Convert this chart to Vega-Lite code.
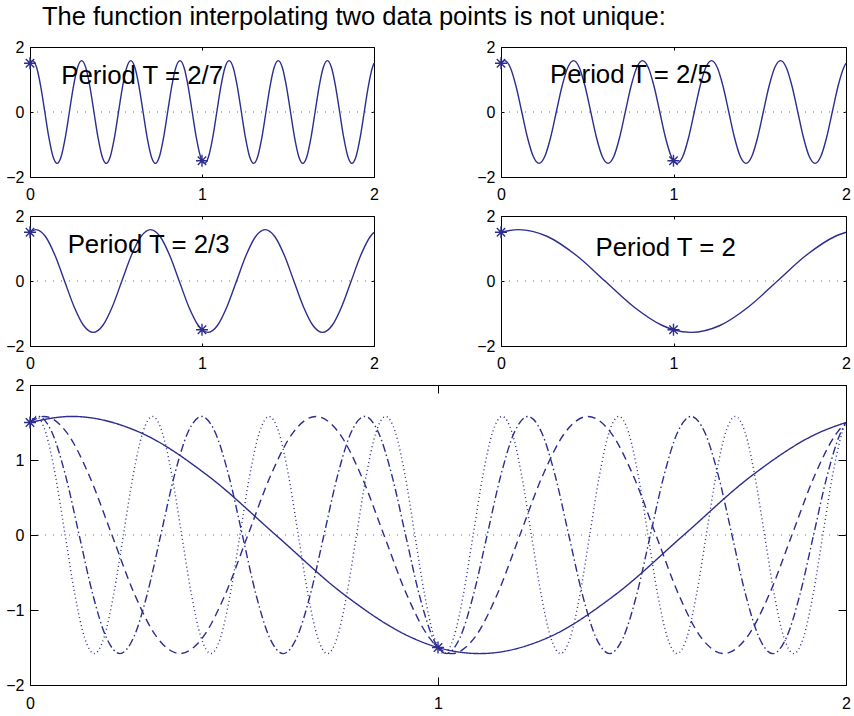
{
  "$schema": "https://vega.github.io/schema/vega-lite/v6.json",
  "background": "white",
  "padding": {"left": 5, "top": 5, "right": 5, "bottom": 5},
  "title": {"text": "The function interpolating two data points is not unique:", "anchor": "start", "frame": "group", "dx": 12, "offset": -12, "baseline": "alphabetic", "fontSize": 25.5, "font": "Liberation Sans", "fontWeight": "normal", "color": "black"},
  "config": {
    "view": {"stroke": "black", "strokeWidth": 1},
    "axis": {"grid": false, "domain": false, "format": "d", "labelFont": "Liberation Sans", "labelFontSize": 16, "labelColor": "black", "tickColor": "black", "tickWidth": 1, "labelFlush": false, "labelOverlap": false, "labelBound": false, "title": null}
  },
  "datasets": {
    "pts": [{"t": 0, "y": 1.5}, {"t": 1, "y": -1.5}],
    "curves": [
{"T":"2/7","t":0,"y":1.5},{"T":"2/7","t":0.0146,"y":1.581},{"T":"2/7","t":0.0384,"y":1.369},{"T":"2/7","t":0.0623,"y":0.791},{"T":"2/7","t":0.0861,"y":0},{"T":"2/7","t":0.1099,"y":-0.791},{"T":"2/7","t":0.1337,"y":-1.369},{"T":"2/7","t":0.1575,"y":-1.581},{"T":"2/7","t":0.1813,"y":-1.369},{"T":"2/7","t":0.2051,"y":-0.791},{"T":"2/7","t":0.2289,"y":0},{"T":"2/7","t":0.2527,"y":0.791},{"T":"2/7","t":0.2765,"y":1.369},{"T":"2/7","t":0.3003,"y":1.581},{"T":"2/7","t":0.3241,"y":1.369},{"T":"2/7","t":0.348,"y":0.791},{"T":"2/7","t":0.3718,"y":0},{"T":"2/7","t":0.3956,"y":-0.791},{"T":"2/7","t":0.4194,"y":-1.369},{"T":"2/7","t":0.4432,"y":-1.581},{"T":"2/7","t":0.467,"y":-1.369},{"T":"2/7","t":0.4908,"y":-0.791},{"T":"2/7","t":0.5146,"y":0},{"T":"2/7","t":0.5384,"y":0.791},{"T":"2/7","t":0.5623,"y":1.369},{"T":"2/7","t":0.5861,"y":1.581},{"T":"2/7","t":0.6099,"y":1.369},{"T":"2/7","t":0.6337,"y":0.791},{"T":"2/7","t":0.6575,"y":0},{"T":"2/7","t":0.6813,"y":-0.791},{"T":"2/7","t":0.7051,"y":-1.369},{"T":"2/7","t":0.7289,"y":-1.581},{"T":"2/7","t":0.7527,"y":-1.369},{"T":"2/7","t":0.7765,"y":-0.791},{"T":"2/7","t":0.8003,"y":0},{"T":"2/7","t":0.8241,"y":0.791},{"T":"2/7","t":0.848,"y":1.369},{"T":"2/7","t":0.8718,"y":1.581},{"T":"2/7","t":0.8956,"y":1.369},{"T":"2/7","t":0.9194,"y":0.791},{"T":"2/7","t":0.9432,"y":0},{"T":"2/7","t":0.967,"y":-0.791},{"T":"2/7","t":0.9908,"y":-1.369},{"T":"2/7","t":1,"y":-1.5},{"T":"2/7","t":1.0146,"y":-1.581},{"T":"2/7","t":1.0384,"y":-1.369},{"T":"2/7","t":1.0623,"y":-0.791},{"T":"2/7","t":1.0861,"y":0},{"T":"2/7","t":1.1099,"y":0.791},{"T":"2/7","t":1.1337,"y":1.369},{"T":"2/7","t":1.1575,"y":1.581},{"T":"2/7","t":1.1813,"y":1.369},{"T":"2/7","t":1.2051,"y":0.791},{"T":"2/7","t":1.2289,"y":0},{"T":"2/7","t":1.2527,"y":-0.791},{"T":"2/7","t":1.2765,"y":-1.369},{"T":"2/7","t":1.3003,"y":-1.581},{"T":"2/7","t":1.3241,"y":-1.369},{"T":"2/7","t":1.348,"y":-0.791},{"T":"2/7","t":1.3718,"y":0},{"T":"2/7","t":1.3956,"y":0.791},{"T":"2/7","t":1.4194,"y":1.369},{"T":"2/7","t":1.4432,"y":1.581},{"T":"2/7","t":1.467,"y":1.369},{"T":"2/7","t":1.4908,"y":0.791},{"T":"2/7","t":1.5146,"y":0},{"T":"2/7","t":1.5384,"y":-0.791},{"T":"2/7","t":1.5623,"y":-1.369},{"T":"2/7","t":1.5861,"y":-1.581},{"T":"2/7","t":1.6099,"y":-1.369},{"T":"2/7","t":1.6337,"y":-0.791},{"T":"2/7","t":1.6575,"y":0},{"T":"2/7","t":1.6813,"y":0.791},{"T":"2/7","t":1.7051,"y":1.369},{"T":"2/7","t":1.7289,"y":1.581},{"T":"2/7","t":1.7527,"y":1.369},{"T":"2/7","t":1.7765,"y":0.791},{"T":"2/7","t":1.8003,"y":0},{"T":"2/7","t":1.8241,"y":-0.791},{"T":"2/7","t":1.848,"y":-1.369},{"T":"2/7","t":1.8718,"y":-1.581},{"T":"2/7","t":1.8956,"y":-1.369},{"T":"2/7","t":1.9194,"y":-0.791},{"T":"2/7","t":1.9432,"y":0},{"T":"2/7","t":1.967,"y":0.791},{"T":"2/7","t":1.9908,"y":1.369},{"T":"2/7","t":2,"y":1.5},
{"T":"2/5","t":0,"y":1.5},{"T":"2/5","t":0.0205,"y":1.581},{"T":"2/5","t":0.0538,"y":1.369},{"T":"2/5","t":0.0872,"y":0.791},{"T":"2/5","t":0.1205,"y":0},{"T":"2/5","t":0.1538,"y":-0.791},{"T":"2/5","t":0.1872,"y":-1.369},{"T":"2/5","t":0.2205,"y":-1.581},{"T":"2/5","t":0.2538,"y":-1.369},{"T":"2/5","t":0.2872,"y":-0.791},{"T":"2/5","t":0.3205,"y":0},{"T":"2/5","t":0.3538,"y":0.791},{"T":"2/5","t":0.3872,"y":1.369},{"T":"2/5","t":0.4205,"y":1.581},{"T":"2/5","t":0.4538,"y":1.369},{"T":"2/5","t":0.4872,"y":0.791},{"T":"2/5","t":0.5205,"y":0},{"T":"2/5","t":0.5538,"y":-0.791},{"T":"2/5","t":0.5872,"y":-1.369},{"T":"2/5","t":0.6205,"y":-1.581},{"T":"2/5","t":0.6538,"y":-1.369},{"T":"2/5","t":0.6872,"y":-0.791},{"T":"2/5","t":0.7205,"y":0},{"T":"2/5","t":0.7538,"y":0.791},{"T":"2/5","t":0.7872,"y":1.369},{"T":"2/5","t":0.8205,"y":1.581},{"T":"2/5","t":0.8538,"y":1.369},{"T":"2/5","t":0.8872,"y":0.791},{"T":"2/5","t":0.9205,"y":0},{"T":"2/5","t":0.9538,"y":-0.791},{"T":"2/5","t":0.9872,"y":-1.369},{"T":"2/5","t":1,"y":-1.5},{"T":"2/5","t":1.0205,"y":-1.581},{"T":"2/5","t":1.0538,"y":-1.369},{"T":"2/5","t":1.0872,"y":-0.791},{"T":"2/5","t":1.1205,"y":0},{"T":"2/5","t":1.1538,"y":0.791},{"T":"2/5","t":1.1872,"y":1.369},{"T":"2/5","t":1.2205,"y":1.581},{"T":"2/5","t":1.2538,"y":1.369},{"T":"2/5","t":1.2872,"y":0.791},{"T":"2/5","t":1.3205,"y":0},{"T":"2/5","t":1.3538,"y":-0.791},{"T":"2/5","t":1.3872,"y":-1.369},{"T":"2/5","t":1.4205,"y":-1.581},{"T":"2/5","t":1.4538,"y":-1.369},{"T":"2/5","t":1.4872,"y":-0.791},{"T":"2/5","t":1.5205,"y":0},{"T":"2/5","t":1.5538,"y":0.791},{"T":"2/5","t":1.5872,"y":1.369},{"T":"2/5","t":1.6205,"y":1.581},{"T":"2/5","t":1.6538,"y":1.369},{"T":"2/5","t":1.6872,"y":0.791},{"T":"2/5","t":1.7205,"y":0},{"T":"2/5","t":1.7538,"y":-0.791},{"T":"2/5","t":1.7872,"y":-1.369},{"T":"2/5","t":1.8205,"y":-1.581},{"T":"2/5","t":1.8538,"y":-1.369},{"T":"2/5","t":1.8872,"y":-0.791},{"T":"2/5","t":1.9205,"y":0},{"T":"2/5","t":1.9538,"y":0.791},{"T":"2/5","t":1.9872,"y":1.369},{"T":"2/5","t":2,"y":1.5},
{"T":"2/3","t":0,"y":1.5},{"T":"2/3","t":0.0341,"y":1.581},{"T":"2/3","t":0.0897,"y":1.369},{"T":"2/3","t":0.1452,"y":0.791},{"T":"2/3","t":0.2008,"y":0},{"T":"2/3","t":0.2563,"y":-0.791},{"T":"2/3","t":0.3119,"y":-1.369},{"T":"2/3","t":0.3675,"y":-1.581},{"T":"2/3","t":0.423,"y":-1.369},{"T":"2/3","t":0.4786,"y":-0.791},{"T":"2/3","t":0.5341,"y":0},{"T":"2/3","t":0.5897,"y":0.791},{"T":"2/3","t":0.6452,"y":1.369},{"T":"2/3","t":0.7008,"y":1.581},{"T":"2/3","t":0.7564,"y":1.369},{"T":"2/3","t":0.8119,"y":0.791},{"T":"2/3","t":0.8675,"y":0},{"T":"2/3","t":0.923,"y":-0.791},{"T":"2/3","t":0.9786,"y":-1.369},{"T":"2/3","t":1,"y":-1.5},{"T":"2/3","t":1.0341,"y":-1.581},{"T":"2/3","t":1.0897,"y":-1.369},{"T":"2/3","t":1.1452,"y":-0.791},{"T":"2/3","t":1.2008,"y":0},{"T":"2/3","t":1.2564,"y":0.791},{"T":"2/3","t":1.3119,"y":1.369},{"T":"2/3","t":1.3675,"y":1.581},{"T":"2/3","t":1.423,"y":1.369},{"T":"2/3","t":1.4786,"y":0.791},{"T":"2/3","t":1.5341,"y":0},{"T":"2/3","t":1.5897,"y":-0.791},{"T":"2/3","t":1.6452,"y":-1.369},{"T":"2/3","t":1.7008,"y":-1.581},{"T":"2/3","t":1.7564,"y":-1.369},{"T":"2/3","t":1.8119,"y":-0.791},{"T":"2/3","t":1.8675,"y":0},{"T":"2/3","t":1.923,"y":0.791},{"T":"2/3","t":1.9786,"y":1.369},{"T":"2/3","t":2,"y":1.5},
{"T":"2","t":0,"y":1.5},{"T":"2","t":0.1024,"y":1.581},{"T":"2","t":0.2691,"y":1.369},{"T":"2","t":0.4358,"y":0.791},{"T":"2","t":0.6024,"y":0},{"T":"2","t":0.7691,"y":-0.791},{"T":"2","t":0.9358,"y":-1.369},{"T":"2","t":1,"y":-1.5},{"T":"2","t":1.1024,"y":-1.581},{"T":"2","t":1.2691,"y":-1.369},{"T":"2","t":1.4358,"y":-0.791},{"T":"2","t":1.6024,"y":0},{"T":"2","t":1.7691,"y":0.791},{"T":"2","t":1.9358,"y":1.369},{"T":"2","t":2,"y":1.5}
    ]
  },
  "spacing": 4,
  "vconcat": [
    {
      "bounds": "flush",
      "spacing": 127,
      "hconcat": [
        {
          "width": 344, "height": 130,
          "layer": [
            {"data": {"values": [{}]}, "mark": {"type": "rule", "color": "#666666", "strokeWidth": 1, "strokeDash": [1, 7]},
             "encoding": {"y": {"datum": 0, "type": "quantitative", "scale": {"domain": [-2, 2], "nice": false}, "axis": null}}},
            {"data": {"name": "curves"}, "transform": [{"filter": "datum.T == '2/7'"}],
             "mark": {"type": "line", "interpolate": "monotone", "color": "#2d2d8f", "strokeWidth": 1.4},
             "encoding": {
               "x": {"field": "t", "type": "quantitative", "scale": {"domain": [0, 2], "nice": false, "zero": false}, "axis": {"values": [0, 1, 2], "tickSize": -3, "labelPadding": 12}},
               "y": {"field": "y", "type": "quantitative", "scale": {"domain": [-2, 2], "nice": false}, "axis": {"values": [-2, 0, 2], "tickSize": -3, "labelPadding": 9}}}},
            {"data": {"name": "pts"}, "mark": {"type": "point", "shape": "M-1,0H1M0,-1V1M-0.7,-0.7L0.7,0.7M-0.7,0.7L0.7,-0.7", "size": 144, "filled": false, "color": "#2d2d8f", "strokeWidth": 1.4, "opacity": 1},
             "encoding": {
               "x": {"field": "t", "type": "quantitative", "scale": {"domain": [0, 2], "nice": false, "zero": false}, "axis": {"orient": "top", "values": [0, 1, 2], "tickSize": -3, "labels": false}},
               "y": {"field": "y", "type": "quantitative", "scale": {"domain": [-2, 2], "nice": false}, "axis": {"orient": "right", "values": [-2, 0, 2], "tickSize": -3, "labels": false}}}},
            {"data": {"values": [{}]}, "mark": {"type": "text", "align": "left", "baseline": "alphabetic", "font": "Liberation Sans", "fontSize": 25.8, "color": "black"},
             "encoding": {"x": {"datum": 0.182, "type": "quantitative", "axis": null}, "y": {"datum": 0.852, "type": "quantitative", "axis": null}, "text": {"value": "Period T = 2/7"}}}
          ],
          "resolve": {"axis": {"x": "independent", "y": "independent"}}
        },
        {
          "width": 345, "height": 130,
          "layer": [
            {"data": {"values": [{}]}, "mark": {"type": "rule", "color": "#666666", "strokeWidth": 1, "strokeDash": [1, 7]},
             "encoding": {"y": {"datum": 0, "type": "quantitative", "scale": {"domain": [-2, 2], "nice": false}, "axis": null}}},
            {"data": {"name": "curves"}, "transform": [{"filter": "datum.T == '2/5'"}],
             "mark": {"type": "line", "interpolate": "monotone", "color": "#2d2d8f", "strokeWidth": 1.4},
             "encoding": {
               "x": {"field": "t", "type": "quantitative", "scale": {"domain": [0, 2], "nice": false, "zero": false}, "axis": {"values": [0, 1, 2], "tickSize": -3, "labelPadding": 12}},
               "y": {"field": "y", "type": "quantitative", "scale": {"domain": [-2, 2], "nice": false}, "axis": {"values": [-2, 0, 2], "tickSize": -3, "labelPadding": 9}}}},
            {"data": {"name": "pts"}, "mark": {"type": "point", "shape": "M-1,0H1M0,-1V1M-0.7,-0.7L0.7,0.7M-0.7,0.7L0.7,-0.7", "size": 144, "filled": false, "color": "#2d2d8f", "strokeWidth": 1.4, "opacity": 1},
             "encoding": {
               "x": {"field": "t", "type": "quantitative", "scale": {"domain": [0, 2], "nice": false, "zero": false}, "axis": {"orient": "top", "values": [0, 1, 2], "tickSize": -3, "labels": false}},
               "y": {"field": "y", "type": "quantitative", "scale": {"domain": [-2, 2], "nice": false}, "axis": {"orient": "right", "values": [-2, 0, 2], "tickSize": -3, "labels": false}}}},
            {"data": {"values": [{}]}, "mark": {"type": "text", "align": "left", "baseline": "alphabetic", "font": "Liberation Sans", "fontSize": 25.8, "color": "black"},
             "encoding": {"x": {"datum": 0.284, "type": "quantitative", "axis": null}, "y": {"datum": 0.9, "type": "quantitative", "axis": null}, "text": {"value": "Period T = 2/5"}}}
          ],
          "resolve": {"axis": {"x": "independent", "y": "independent"}}
        }
      ]
    },
    {
      "bounds": "flush",
      "spacing": 127,
      "hconcat": [
        {
          "width": 344, "height": 130,
          "layer": [
            {"data": {"values": [{}]}, "mark": {"type": "rule", "color": "#666666", "strokeWidth": 1, "strokeDash": [1, 7]},
             "encoding": {"y": {"datum": 0, "type": "quantitative", "scale": {"domain": [-2, 2], "nice": false}, "axis": null}}},
            {"data": {"name": "curves"}, "transform": [{"filter": "datum.T == '2/3'"}],
             "mark": {"type": "line", "interpolate": "monotone", "color": "#2d2d8f", "strokeWidth": 1.4},
             "encoding": {
               "x": {"field": "t", "type": "quantitative", "scale": {"domain": [0, 2], "nice": false, "zero": false}, "axis": {"values": [0, 1, 2], "tickSize": -3, "labelPadding": 12}},
               "y": {"field": "y", "type": "quantitative", "scale": {"domain": [-2, 2], "nice": false}, "axis": {"values": [-2, 0, 2], "tickSize": -3, "labelPadding": 9}}}},
            {"data": {"name": "pts"}, "mark": {"type": "point", "shape": "M-1,0H1M0,-1V1M-0.7,-0.7L0.7,0.7M-0.7,0.7L0.7,-0.7", "size": 144, "filled": false, "color": "#2d2d8f", "strokeWidth": 1.4, "opacity": 1},
             "encoding": {
               "x": {"field": "t", "type": "quantitative", "scale": {"domain": [0, 2], "nice": false, "zero": false}, "axis": {"orient": "top", "values": [0, 1, 2], "tickSize": -3, "labels": false}},
               "y": {"field": "y", "type": "quantitative", "scale": {"domain": [-2, 2], "nice": false}, "axis": {"orient": "right", "values": [-2, 0, 2], "tickSize": -3, "labels": false}}}},
            {"data": {"values": [{}]}, "mark": {"type": "text", "align": "left", "baseline": "alphabetic", "font": "Liberation Sans", "fontSize": 25.8, "color": "black"},
             "encoding": {"x": {"datum": 0.219, "type": "quantitative", "axis": null}, "y": {"datum": 0.852, "type": "quantitative", "axis": null}, "text": {"value": "Period T = 2/3"}}}
          ],
          "resolve": {"axis": {"x": "independent", "y": "independent"}}
        },
        {
          "width": 345, "height": 130,
          "layer": [
            {"data": {"values": [{}]}, "mark": {"type": "rule", "color": "#666666", "strokeWidth": 1, "strokeDash": [1, 7]},
             "encoding": {"y": {"datum": 0, "type": "quantitative", "scale": {"domain": [-2, 2], "nice": false}, "axis": null}}},
            {"data": {"name": "curves"}, "transform": [{"filter": "datum.T == '2'"}],
             "mark": {"type": "line", "interpolate": "monotone", "color": "#2d2d8f", "strokeWidth": 1.4},
             "encoding": {
               "x": {"field": "t", "type": "quantitative", "scale": {"domain": [0, 2], "nice": false, "zero": false}, "axis": {"values": [0, 1, 2], "tickSize": -3, "labelPadding": 12}},
               "y": {"field": "y", "type": "quantitative", "scale": {"domain": [-2, 2], "nice": false}, "axis": {"values": [-2, 0, 2], "tickSize": -3, "labelPadding": 9}}}},
            {"data": {"name": "pts"}, "mark": {"type": "point", "shape": "M-1,0H1M0,-1V1M-0.7,-0.7L0.7,0.7M-0.7,0.7L0.7,-0.7", "size": 144, "filled": false, "color": "#2d2d8f", "strokeWidth": 1.4, "opacity": 1},
             "encoding": {
               "x": {"field": "t", "type": "quantitative", "scale": {"domain": [0, 2], "nice": false, "zero": false}, "axis": {"orient": "top", "values": [0, 1, 2], "tickSize": -3, "labels": false}},
               "y": {"field": "y", "type": "quantitative", "scale": {"domain": [-2, 2], "nice": false}, "axis": {"orient": "right", "values": [-2, 0, 2], "tickSize": -3, "labels": false}}}},
            {"data": {"values": [{}]}, "mark": {"type": "text", "align": "left", "baseline": "alphabetic", "font": "Liberation Sans", "fontSize": 25.8, "color": "black"},
             "encoding": {"x": {"datum": 0.548, "type": "quantitative", "axis": null}, "y": {"datum": 0.78, "type": "quantitative", "axis": null}, "text": {"value": "Period T = 2"}}}
          ],
          "resolve": {"axis": {"x": "independent", "y": "independent"}}
        }
      ]
    },
    {
      "width": 816, "height": 300,
      "layer": [
        {"data": {"values": [{}]}, "mark": {"type": "rule", "color": "#666666", "strokeWidth": 1, "strokeDash": [1, 7]},
         "encoding": {"y": {"datum": 0, "type": "quantitative", "scale": {"domain": [-2, 2], "nice": false}, "axis": null}}},
        {"data": {"name": "curves"},
         "mark": {"type": "line", "interpolate": "monotone", "color": "#2d2d8f", "strokeWidth": 1.4},
         "encoding": {
           "x": {"field": "t", "type": "quantitative", "scale": {"domain": [0, 2], "nice": false, "zero": false}, "axis": {"values": [0, 1, 2], "tickSize": -8, "labelPadding": 18}},
           "y": {"field": "y", "type": "quantitative", "scale": {"domain": [-2, 2], "nice": false}, "axis": {"values": [-2, -1, 0, 1, 2], "tickSize": -8, "labelPadding": 14}},
           "strokeDash": {"field": "T", "type": "nominal", "scale": {"domain": ["2", "2/3", "2/5", "2/7"], "range": [[1, 0], [8, 5], [8, 3, 1.5, 3], [1, 3]]}, "legend": null}}},
        {"data": {"name": "pts"}, "mark": {"type": "point", "shape": "M-1,0H1M0,-1V1M-0.7,-0.7L0.7,0.7M-0.7,0.7L0.7,-0.7", "size": 144, "filled": false, "color": "#2d2d8f", "strokeWidth": 1.4, "opacity": 1},
         "encoding": {
           "x": {"field": "t", "type": "quantitative", "scale": {"domain": [0, 2], "nice": false, "zero": false}, "axis": {"orient": "top", "values": [0, 1, 2], "tickSize": -8, "labels": false}},
           "y": {"field": "y", "type": "quantitative", "scale": {"domain": [-2, 2], "nice": false}, "axis": {"orient": "right", "values": [-2, -1, 0, 1, 2], "tickSize": -8, "labels": false}}}}
      ],
      "resolve": {"axis": {"x": "independent", "y": "independent"}}
    }
  ]
}
